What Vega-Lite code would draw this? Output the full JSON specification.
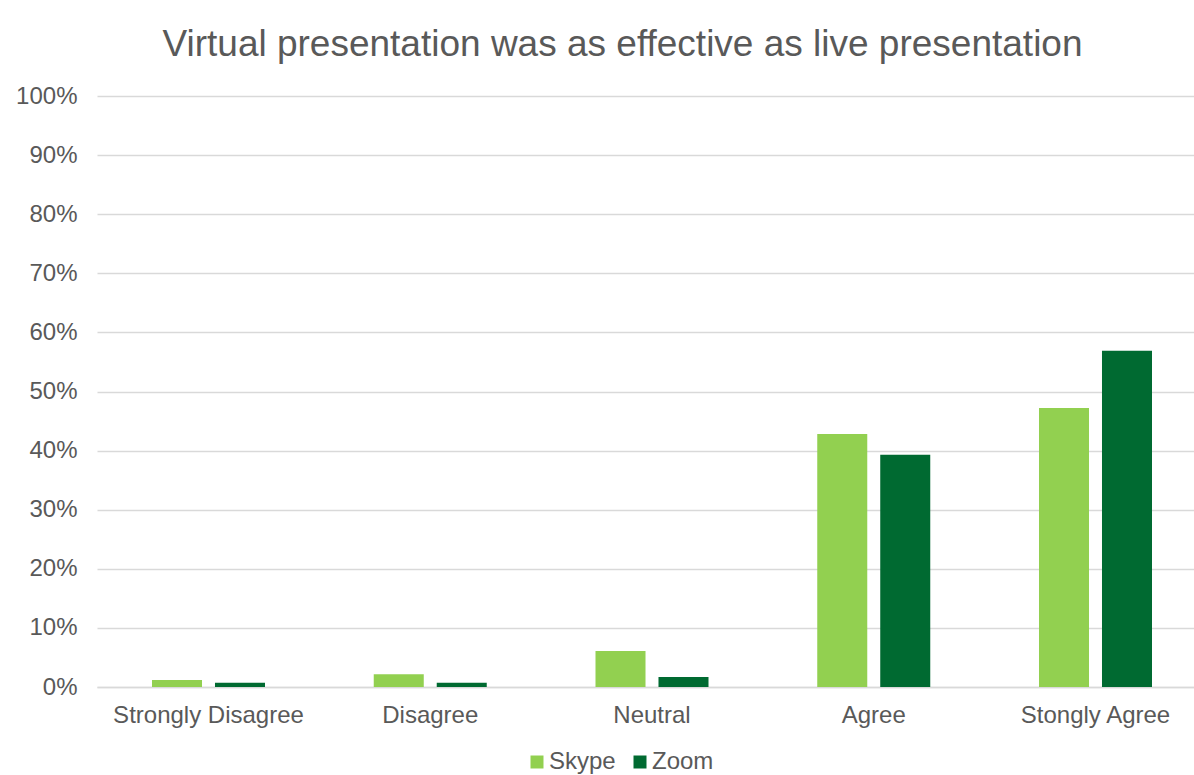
{
  "$schema": "https://vega.github.io/schema/vega-lite/v6.json",
  "autosize": {"type": "none"},
  "padding": {"left": 97, "top": 96, "right": 0, "bottom": 88},
  "width": 1097,
  "height": 591,
  "background": "white",
  "title": {
    "text": "Virtual presentation was as effective as live presentation",
    "font": "Liberation Sans",
    "fontSize": 37,
    "fontWeight": "normal",
    "color": "#595959",
    "anchor": "middle",
    "dx": -23,
    "offset": 20
  },
  "data": {
    "values": [
      {"response": "Strongly Disagree", "platform": "Skype", "share": 0.012},
      {"response": "Strongly Disagree", "platform": "Zoom", "share": 0.007},
      {"response": "Disagree", "platform": "Skype", "share": 0.0215},
      {"response": "Disagree", "platform": "Zoom", "share": 0.007},
      {"response": "Neutral", "platform": "Skype", "share": 0.061},
      {"response": "Neutral", "platform": "Zoom", "share": 0.017},
      {"response": "Agree", "platform": "Skype", "share": 0.428},
      {"response": "Agree", "platform": "Zoom", "share": 0.393},
      {"response": "Stongly Agree", "platform": "Skype", "share": 0.472},
      {"response": "Stongly Agree", "platform": "Zoom", "share": 0.569}
    ]
  },
  "mark": {"type": "bar"},
  "encoding": {
    "x": {
      "field": "response",
      "type": "nominal",
      "sort": ["Strongly Disagree", "Disagree", "Neutral", "Agree", "Stongly Agree"],
      "scale": {"paddingInner": 0.4904, "paddingOuter": 0.2187, "align": 0.567},
      "axis": {
        "title": null,
        "labelAngle": 0,
        "labelLimit": 0,
        "labelFont": "Liberation Sans",
        "labelFontSize": 24,
        "labelColor": "#595959",
        "labelPadding": 16,
        "ticks": false,
        "domainColor": "#D9D9D9",
        "domainWidth": 1.5
      }
    },
    "xOffset": {
      "field": "platform",
      "type": "nominal",
      "scale": {"paddingInner": 0.206, "paddingOuter": 0}
    },
    "y": {
      "field": "share",
      "type": "quantitative",
      "scale": {"domain": [0, 1], "nice": false},
      "axis": {
        "title": null,
        "values": [0, 0.1, 0.2, 0.3, 0.4, 0.5, 0.6, 0.7, 0.8, 0.9, 1],
        "format": ".0%",
        "labelFont": "Liberation Sans",
        "labelFontSize": 24,
        "labelColor": "#595959",
        "labelPadding": 20,
        "ticks": false,
        "domain": false,
        "gridColor": "#D9D9D9",
        "gridWidth": 1.5
      }
    },
    "color": {
      "field": "platform",
      "type": "nominal",
      "scale": {"domain": ["Skype", "Zoom"], "range": ["#92D050", "#006A31"]},
      "legend": {
        "title": null,
        "orient": "none",
        "direction": "horizontal",
        "legendX": 428,
        "legendY": 654,
        "symbolType": "square",
        "symbolSize": 169,
        "symbolStrokeWidth": 0,
        "labelFont": "Liberation Sans",
        "labelFontSize": 24,
        "labelColor": "#595959",
        "labelOffset": 0,
        "columnPadding": 12
      }
    }
  },
  "config": {"view": {"stroke": null}}
}
